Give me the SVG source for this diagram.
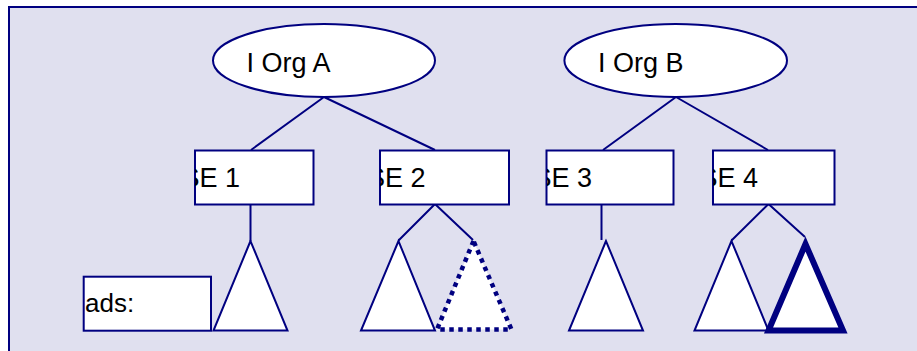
<svg xmlns="http://www.w3.org/2000/svg" width="917" height="351" viewBox="0 0 917 351">
<style>
.shape{fill:#fff;stroke:#000080;stroke-width:2}
.lbl{font-family:"Liberation Sans",Arial,sans-serif;font-size:27px;fill:#000}
.se{font-family:"Liberation Sans",Arial,sans-serif;font-size:27px;fill:#000}
.conn{fill:none;stroke:#000080;stroke-width:2}
</style>
<defs>
<clipPath id="c1"><rect x="195" y="151" width="118" height="53"/></clipPath>
<clipPath id="c2"><rect x="380" y="151" width="129" height="53"/></clipPath>
<clipPath id="c3"><rect x="547" y="151" width="126" height="53"/></clipPath>
<clipPath id="c4"><rect x="713" y="151" width="121" height="53"/></clipPath>
</defs>
<rect x="0" y="0" width="917" height="351" fill="#fff"/>
<rect x="9" y="7" width="920" height="360" fill="#E0E0EF"/>
<path d="M9,360 V7 H930" fill="none" stroke="#000080" stroke-width="2"/>
<g id="connectors">
<path class="conn" d="M324,97 L251,150 M324,97 L435,150"/>
<path class="conn" d="M676,97 L603,150 M676,97 L768,150"/>
<path class="conn" d="M250.5,204 V241"/>
<path class="conn" d="M435,204 L398.5,240.5 M435,204 L473,240"/>
<path class="conn" d="M601.5,204 V240"/>
<path class="conn" d="M768.5,204 L731.5,240.5 M768.5,204 L805,237"/>
</g>
<g id="orgA">
<ellipse class="shape" cx="324" cy="60.5" rx="111" ry="36.5"/>
<text class="lbl" x="246.5" y="72">I Org A</text>
</g>
<g id="orgB">
<ellipse class="shape" cx="675.7" cy="60.5" rx="111.3" ry="36.5"/>
<text class="lbl" x="598" y="72">I Org B</text>
</g>
<g id="se1">
<rect class="shape" x="195" y="150.5" width="118.5" height="54"/>
<text class="se" x="181.5" y="187" clip-path="url(#c1)">SE 1</text>
</g>
<g id="se2">
<rect class="shape" x="380" y="150.5" width="129" height="54"/>
<text class="se" x="367" y="187" clip-path="url(#c2)">SE 2</text>
</g>
<g id="se3">
<rect class="shape" x="546.5" y="150.5" width="127" height="54"/>
<text class="se" x="533.5" y="187" clip-path="url(#c3)">SE 3</text>
</g>
<g id="se4">
<rect class="shape" x="713" y="150.5" width="121.5" height="54"/>
<text class="se" x="699.5" y="187" clip-path="url(#c4)">SE 4</text>
</g>
<g id="legend">
<rect class="shape" x="83.7" y="276.7" width="127.3" height="54"/>
<text class="lbl" x="85" y="312" style="font-size:26px">ads:</text>
</g>
<g id="tri1"><polygon class="shape" points="250.5,241 213.5,330.5 287.5,330.5"/></g>
<g id="tri2a"><polygon class="shape" points="398.5,241 361,330.5 435,330.5"/></g>
<g id="tri2b"><polygon points="473.5,241 437,329.5 511.5,329.5" fill="#fff" stroke="#000080" stroke-width="4.5" stroke-dasharray="4.5,4.5"/></g>
<g id="tri3"><polygon class="shape" points="606,241 569,330.5 643,330.5"/></g>
<g id="tri4a"><polygon class="shape" points="731.5,241 694.5,330.5 768.5,330.5"/></g>
<g id="tri4b"><polygon points="805.5,244 768.5,330.5 843,330.5" fill="#fff" stroke="#000080" stroke-width="6"/></g>
</svg>
